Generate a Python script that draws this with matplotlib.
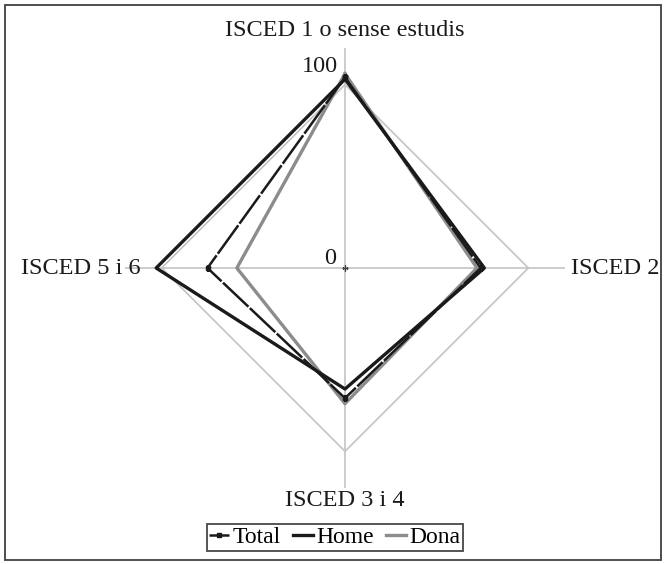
import numpy as np
import matplotlib
matplotlib.use("Agg")
import matplotlib.pyplot as plt
from matplotlib.patches import Rectangle

categories = ["ISCED 1 o sense estudis", "ISCED 2", "ISCED 3 i 4", "ISCED 5 i 6"]
total = [104, 74, 71, 75]
home = [103, 76, 66, 103]
dona = [106, 72, 74, 59]
grid_levels = [0, 100]
axis_max = 120

plt.rcParams['font.family'] = ['Liberation Serif', 'DejaVu Serif']

W, H = 666, 564
fig = plt.figure(figsize=(W / 100, H / 100), dpi=100)

# outer border
fig.patches.append(Rectangle((5 / W, 4 / H), (661 - 5) / W, (559 - 4) / H,
                             transform=fig.transFigure, fill=False,
                             edgecolor='#404040', linewidth=1.3))

cx, cy, R = 345, 268, 220
ax = fig.add_axes([(cx - R) / W, (H - cy - R) / H, 2 * R / W, 2 * R / H],
                  projection='polar')
ax.set_theta_offset(np.pi / 2)
ax.set_theta_direction(-1)
ax.set_ylim(0, axis_max)
ax.grid(False)
ax.spines['polar'].set_visible(False)
ax.set_xticks([])
ax.set_yticks([])
ax.patch.set_alpha(0)

n = len(categories)
angles = np.arange(n) * 2 * np.pi / n

# axis lines
for a in angles:
    ax.plot([a, a], [0, axis_max], color='#c4c4c4', lw=1.2, zorder=1)

# grid diamond at 100
ga = np.append(angles, angles[0])
ax.plot(ga, [grid_levels[1]] * (n + 1), color='#c4c4c4', lw=1.2, zorder=1)

def closed(v):
    return list(v) + [v[0]]

l_dona, = ax.plot(ga, closed(dona), color='#8c8c8c', lw=2.4, zorder=3, label='Dona')
l_total, = ax.plot(ga, closed(total), color='#1a1a1a', lw=1.8, ls=(0, (14, 0.8)),
                   marker='s', ms=3, zorder=4, label='Total')
l_home, = ax.plot(ga, closed(home), color='#1a1a1a', lw=2.4, zorder=5, label='Home')
ax.plot([0], [0], marker='+', color='#404040', ms=4, mew=1, zorder=6)

fs = 17.5
def ftext(x, y, s, ha='center', va='center'):
    fig.text(x / W, 1 - y / H, s, ha=ha, va=va, fontsize=fs, color='#1a1a1a')

ftext(345, 30, categories[0])
ftext(571, 268, categories[1], ha='left')
ftext(345, 500, categories[2])
ftext(141, 268, categories[3], ha='right')
ftext(338, 66, str(grid_levels[1]), ha='right')
ftext(336, 259, str(grid_levels[0]), ha='right')

leg = fig.legend([l_total, l_home, l_dona], ['Total', 'Home', 'Dona'],
                 loc='center', bbox_to_anchor=(335 / W, 1 - 537.5 / H), ncol=3,
                 fontsize=17, frameon=True, fancybox=False, handlelength=0.85,
                 handletextpad=0.15, columnspacing=0.5, borderpad=0.1,
                 borderaxespad=0)
leg.get_frame().set_edgecolor('#1a1a1a')
leg.get_frame().set_linewidth(1.3)

fig.savefig("out.png", dpi=100)
